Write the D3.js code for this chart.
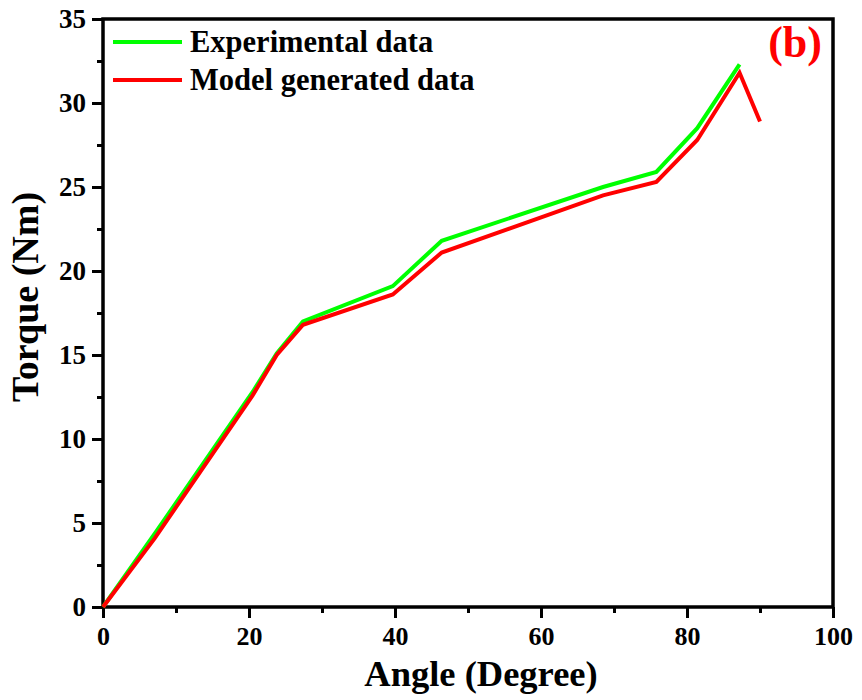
<!DOCTYPE html>
<html><head><meta charset="utf-8">
<script src="https://cdn.jsdelivr.net/npm/d3@7"></script>
<style>body{margin:0;background:#fff}svg{display:block}text{font-family:"Liberation Serif","Times New Roman",serif;font-weight:bold}</style>
</head><body><svg id="c" width="862" height="700"></svg>
<script>
const expAngle = [0, 7.3, 20.5, 23.8, 27.4, 39.7, 46.4, 68.5, 75.8, 81.4, 87.2];
const expTorque = [0, 4.5, 12.8, 15.1, 17.0, 19.1, 21.8, 25.0, 25.9, 28.5, 32.3];
const modAngle = [0, 7.1, 20.5, 23.8, 27.4, 39.7, 46.4, 68.5, 75.8, 81.4, 87.2, 90.0];
const modTorque = [0, 4.1, 12.6, 15.0, 16.8, 18.6, 21.1, 24.5, 25.3, 27.8, 31.8, 28.9];
const xTicks = [0, 20, 40, 60, 80, 100];
const yTicks = [0, 5, 10, 15, 20, 25, 30, 35];
const seriesNames = ["Experimental data", "Model generated data"];
const seriesColors = ["#00ff00", "#ff0000"];

const svg = d3.select("#c");
const L = 103, R = 833, T = 19, B = 607;
const x = d3.scaleLinear().domain([0, 100]).range([L, R]);
const y = d3.scaleLinear().domain([0, 35]).range([B, T]);

// minor ticks
const xMinor = d3.range(10, 100, 20);
const yMinor = d3.range(2.5, 35, 5);
svg.append("g").attr("transform", `translate(0,${B})`)
  .call(d3.axisBottom(x).tickValues(xMinor).tickSize(6).tickFormat(""))
  .call(g => { g.select(".domain").remove(); g.selectAll("line").attr("stroke", "#000").attr("stroke-width", 3); });
svg.append("g").attr("transform", `translate(${L},0)`)
  .call(d3.axisLeft(y).tickValues(yMinor).tickSize(6).tickFormat(""))
  .call(g => { g.select(".domain").remove(); g.selectAll("line").attr("stroke", "#000").attr("stroke-width", 3); });

// major ticks
const gx = svg.append("g").attr("transform", `translate(0,${B})`)
  .call(d3.axisBottom(x).tickValues(xTicks).tickSize(11).tickPadding(9).tickFormat(d3.format("d")));
gx.select(".domain").remove();
gx.selectAll("line").attr("stroke", "#000").attr("stroke-width", 3);
gx.selectAll("text").attr("font-size", 26).attr("fill", "#000").attr("font-family", "Liberation Serif").attr("font-weight", "bold");

const gy = svg.append("g").attr("transform", `translate(${L},0)`)
  .call(d3.axisLeft(y).tickValues(yTicks).tickSize(11).tickPadding(6).tickFormat(d3.format("d")));
gy.select(".domain").remove();
gy.selectAll("line").attr("stroke", "#000").attr("stroke-width", 3);
gy.selectAll("text").attr("font-size", 27).attr("fill", "#000").attr("font-family", "Liberation Serif").attr("font-weight", "bold");

// frame
svg.append("rect").attr("x", L).attr("y", T).attr("width", R - L).attr("height", B - T)
  .attr("fill", "none").attr("stroke", "#000").attr("stroke-width", 3.5);

const line = d3.line().x(d => x(d[0])).y(d => y(d[1]));
const expData = expAngle.map((a, i) => [a, expTorque[i]]);
const modData = modAngle.map((a, i) => [a, modTorque[i]]);
svg.append("path").datum(expData).attr("d", line).attr("fill", "none")
  .attr("stroke", seriesColors[0]).attr("stroke-width", 4).attr("stroke-linejoin", "miter");
svg.append("path").datum(modData).attr("d", line).attr("fill", "none")
  .attr("stroke", seriesColors[1]).attr("stroke-width", 4).attr("stroke-linejoin", "miter");

// legend
seriesNames.forEach((n, i) => {
  const yy = 42 + i * 38;
  svg.append("line").attr("x1", 113).attr("x2", 182).attr("y1", yy).attr("y2", yy)
    .attr("stroke", seriesColors[i]).attr("stroke-width", 4);
  svg.append("text").attr("x", 190).attr("y", yy + 10).attr("font-size", 30.5).attr("fill", "#000").text(n);
});

// panel label
svg.append("text").attr("x", 822).attr("y", 57).attr("text-anchor", "end")
  .attr("font-size", 44).attr("fill", "#ff0000").text("(b)");

// axis titles
svg.append("text").attr("x", 481).attr("y", 686).attr("text-anchor", "middle")
  .attr("font-size", 36.5).attr("fill", "#000").text("Angle (Degree)");
svg.append("text").attr("transform", "translate(38,297) rotate(-90)").attr("text-anchor", "middle")
  .attr("font-size", 38).attr("fill", "#000").text("Torque (Nm)");
</script></body></html>
